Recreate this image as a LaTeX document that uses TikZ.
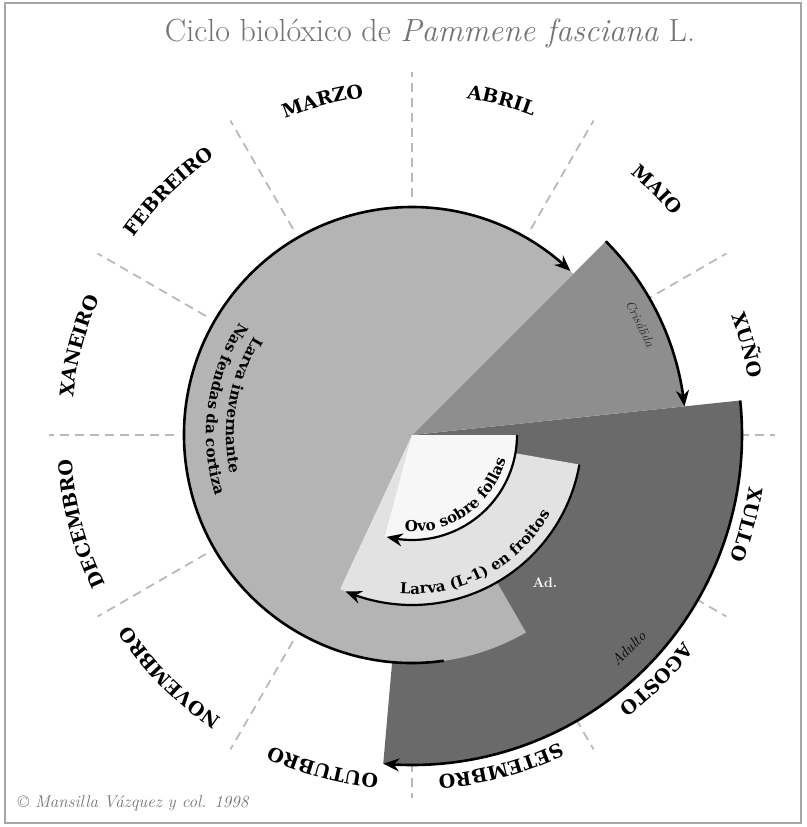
\documentclass[tikz,border=0pt]{standalone}
\usepackage{fontspec}
\newfontfamily\mesfamily{DejaVu Serif}
\usetikzlibrary{arrows.meta,bending,decorations.text}
\definecolor{cicloinv}{HTML}{B4B4B4}
\definecolor{ciclocris}{HTML}{8E8E8E}
\definecolor{cicload}{HTML}{6A6A6A}
\definecolor{ciclolarva}{HTML}{E2E2E2}
\definecolor{cicloovo}{HTML}{F7F7F7}
\newcommand{\mesfont}{\mesfamily\bfseries\fontsize{19}{21}\selectfont}
\newcommand{\fasefont}{\mesfamily\bfseries\fontsize{15}{17}\selectfont}

\begin{document}
\begin{tikzpicture}[x=1pt,y=1pt,
      division/.style={gray!55,line width=1.8pt,dash pattern=on 9pt off 6pt},
      frecha/.style={line width=2.6pt,-{Stealth[length=16pt,width=13pt]}},
      titulo/.style={font=\fontsize{32}{35}\selectfont,text=black!55},
      etiqueta/.style={font=\itshape\fontsize{15}{17}\selectfont,text=black!85}]
    \useasboundingbox (-412,-392) rectangle (394,435);
    \draw[gray!70,line width=1.5pt] (-407,432) rectangle (389,-388);
    % title
    \node[titulo] (titulo) at (18,401) {Ciclo biolóxico de \textit{Pammene fasciana} L.};
    % month divisions
    \foreach \a in {0,30,...,330}{
      \draw[division] (\a:238) -- (\a:363);
    }
    % month names round the rim
    \foreach \mes [count=\k from 0] in {XANEIRO,FEBREIRO,MARZO,ABRIL,MAIO,XUÑO,XULLO,AGOSTO,SETEMBRO,OUTUBRO,NOVEMBRO,DECEMBRO}{
      \pgfmathsetmacro{\ini}{180-30*\k}
      \pgfmathsetmacro{\fin}{150-30*\k}
      \path[decorate,decoration={text along path,text align=center,
          text/.expanded={|\noexpand\mesfont|\mes}}]
        (\ini:341) arc[start angle=\ini,end angle=\fin,radius=341pt];
    }
    % phases
    \fill[cicload] (0,0) -- (6:330) arc[start angle=6,end angle=-95,radius=330pt] -- cycle;
    \fill[ciclocris] (0,0) -- (45:274) arc[start angle=45,end angle=6,radius=274pt] -- cycle;
    \fill[cicloinv] (0,0) -- (-60:228) arc[start angle=-60,end angle=-315,radius=228pt] -- cycle;
    \fill[ciclolarva] (0,0) -- (-10:170) arc[start angle=-10,end angle=-115,radius=170pt] -- cycle;
    \fill[cicloovo] (0,0) -- (0:105) arc[start angle=0,end angle=-105,radius=105pt] -- cycle;
    % arrows
    \draw[frecha] (-82:228) arc[start angle=-82,end angle=-314,radius=228pt];
    \draw[frecha] (45:274) arc[start angle=45,end angle=6,radius=274pt];
    \draw[frecha] (6:330) arc[start angle=6,end angle=-95,radius=330pt];
    \draw[frecha,line width=2.2pt] (-10:170) arc[start angle=-10,end angle=-113,radius=170pt];
    \draw[frecha,line width=2.2pt] (0:105) arc[start angle=0,end angle=-104,radius=105pt];
    % phase texts
    \path[decorate,decoration={text along path,text align=center,
        text={|\fasefont|Ovo sobre follas}}]
      (-108:97) arc[start angle=-108,end angle=-1,radius=97pt];
    \path[decorate,decoration={text along path,text align=center,
        text={|\fasefont|Larva (L-1) en froitos}}]
      (-116:159) arc[start angle=-116,end angle=-8,radius=159pt];
    \path[decorate,decoration={text along path,text align=center,
        text={|\fasefont|Larva invernante}}]
      (126:186) arc[start angle=126,end angle=214,radius=186pt];
    \path[decorate,decoration={text along path,text align=center,
        text={|\fasefont|Nas fendas da cortiza}}]
      (126:206) arc[start angle=126,end angle=218,radius=206pt];
    \node[etiqueta,rotate=-64,font=\itshape\fontsize{13}{15}\selectfont] (crisalida) at (26:254) {Crisálida};
    \node[etiqueta,rotate=45,text=black] (adulto) at (-44.6:304) {Adulto};
    \node[text=white,font=\bfseries\fontsize{14}{16}\selectfont] (ad) at (133,-148) {Ad.};
    % credit
    \node[anchor=west,font=\itshape\fontsize{17}{19}\selectfont,text=black!55] (credito) at (-398,-368) {\textcopyright{} Mansilla Vázquez y col. 1998};
  \end{tikzpicture}
\end{document}
